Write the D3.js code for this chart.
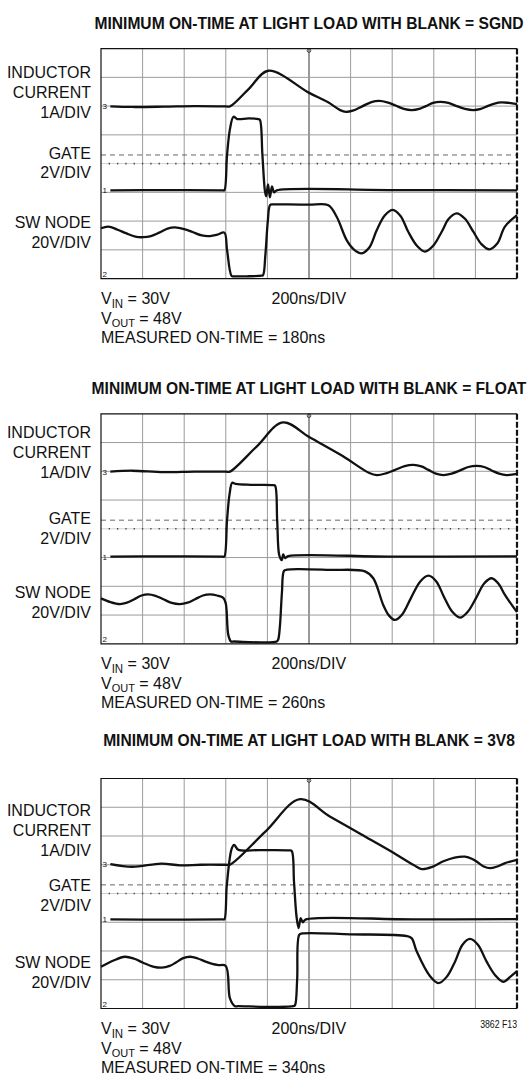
<!DOCTYPE html>
<html>
<head>
<meta charset="utf-8">
<script src="https://cdn.jsdelivr.net/npm/d3@7"></script>
<style>
  html, body { margin: 0; padding: 0; background: #fff; }
  svg { display: block; }
  text { font-family: "Liberation Sans", Arial, Helvetica, sans-serif; fill: #111; }
</style>
</head>
<body>
<svg id="chart" width="529" height="1076"></svg>
<script>
// ---- text ----
const titles = [
  "MINIMUM ON-TIME AT LIGHT LOAD WITH BLANK = SGND",
  "MINIMUM ON-TIME AT LIGHT LOAD WITH BLANK = FLOAT",
  "MINIMUM ON-TIME AT LIGHT LOAD WITH BLANK = 3V8"
];
const onTimes = ["180ns", "260ns", "340ns"];
const currentLabel = ["INDUCTOR", "CURRENT", "1A/DIV"];
const gateLabel = ["GATE", "2V/DIV"];
const swLabel = ["SW NODE", "20V/DIV"];
const vinText = "30V";
const voutText = "48V";
const timebaseText = "200ns/DIV";
const figureId = "3862 F13";

// ---- graticule: time in ns (200ns/div), amplitude in divisions ----
const timeTicks = [0, 200, 400, 600, 800, 1000, 1200, 1400, 1600, 1800, 2000];
const divTicks = [-4, -3, -2, -1, 0, 1, 2, 3, 4];
const minorTicks = [0, 40, 80, 120, 160, 200, 240, 280, 320, 360, 400, 440, 480, 520, 560, 600,
  640, 680, 720, 760, 800, 840, 880, 920, 960, 1000, 1040, 1080, 1120, 1160, 1200, 1240, 1280,
  1320, 1360, 1400, 1440, 1480, 1520, 1560, 1600, 1640, 1680, 1720, 1760, 1800, 1840, 1880,
  1920, 1960, 2000];
const triggerLevel = 0.3;

// ---- traces: [time ns, divisions from screen centre] ----
// BLANK = SGND
const sgndCurrent = [[45,1.99],[150,1.97],[300,1.98],[450,2.0],[600,1.99],[620,1.99],[712,2.61],
  [804,3.23],[1001,2.46],[1090,2.14],[1150,1.86],[1178,1.80],[1210,1.84],[1258,2.0],[1300,2.14],
  [1338,2.18],[1376,2.13],[1416,2.02],[1456,1.9],[1494,1.86],[1530,1.9],[1562,2.0],[1596,2.11],
  [1630,2.15],[1670,2.11],[1710,2.0],[1750,1.9],[1790,1.86],[1826,1.9],[1858,2.0],[1892,2.09],
  [1926,2.13],[1962,2.11],[2000,2.07]];
const sgndGate = [[45,-0.93],[300,-0.92],[585,-0.93],[593,-0.93],[606,0.3],[620,1.2],[637,1.63],
  [655,1.55],[710,1.57],[756,1.55],[764,1.52],[776,0.3],[788,-0.95],[794,-1.14],[803,-0.72],
  [812,-1.17],[822,-0.79],[832,-1.0],[845,-0.93],[1400,-0.92],[2000,-0.93]];
const sgndSw = [[0,-2.25],[35,-2.19],[80,-2.3],[120,-2.42],[165,-2.54],[203,-2.56],[240,-2.52],
  [280,-2.4],[320,-2.26],[356,-2.22],[400,-2.28],[440,-2.38],[485,-2.5],[524,-2.52],[560,-2.47],
  [593,-2.40],[606,-3.0],[628,-3.91],[640,-3.92],[700,-3.92],[770,-3.9],[779,-3.88],[790,-3.2],
  [802,-2.0],[813,-1.44],[825,-1.42],[900,-1.42],[1000,-1.43],[1093,-1.45],[1133,-1.85],
  [1181,-2.66],[1215,-2.98],[1253,-3.12],[1290,-2.92],[1326,-2.31],[1365,-1.80],[1403,-1.61],
  [1440,-1.82],[1477,-2.37],[1518,-2.85],[1558,-3.06],[1598,-2.85],[1638,-2.37],[1672,-1.92],
  [1710,-1.73],[1750,-1.92],[1790,-2.37],[1829,-2.80],[1867,-2.98],[1905,-2.78],[1942,-2.19],
  [2000,-1.79]];

// BLANK = FLOAT
const floatCurrent = [[45,1.99],[150,2.02],[300,1.97],[450,1.99],[600,1.99],[620,1.99],[747,2.85],
  [874,3.70],[1001,3.19],[1160,2.54],[1290,1.94],[1326,1.87],[1370,1.93],[1414,2.05],[1460,2.18],
  [1502,2.22],[1540,2.17],[1574,2.05],[1610,1.92],[1646,1.87],[1686,1.92],[1726,2.03],
  [1766,2.15],[1806,2.19],[1842,2.15],[1878,2.03],[1914,1.92],[1950,1.87],[2000,1.91]];
const floatGate = [[45,-0.97],[300,-0.96],[585,-0.97],[593,-0.97],[606,0.3],[618,1.2],[631,1.6],
  [648,1.56],[720,1.53],[828,1.52],[837,1.50],[847,0.3],[857,-0.92],[869,-1.09],[876,-0.89],
  [885,-1.02],[900,-0.95],[1400,-0.97],[2000,-0.96]];
const floatSw = [[0,-2.42],[45,-2.55],[91,-2.62],[125,-2.57],[160,-2.45],[195,-2.32],[227,-2.28],
  [262,-2.33],[300,-2.45],[340,-2.58],[380,-2.62],[416,-2.57],[452,-2.45],[490,-2.32],
  [524,-2.28],[558,-2.32],[588,-2.40],[600,-2.6],[612,-3.69],[625,-3.92],[640,-3.92],
  [845,-3.92],[852,-3.85],[860,-3.4],[870,-2.2],[880,-1.46],[895,-1.42],[950,-1.40],
  [1100,-1.43],[1269,-1.48],[1309,-1.72],[1357,-2.65],[1385,-3.02],[1413,-3.17],[1448,-2.98],
  [1490,-2.41],[1535,-1.83],[1574,-1.63],[1612,-1.83],[1649,-2.37],[1688,-2.88],[1726,-3.09],
  [1764,-2.88],[1803,-2.41],[1842,-1.90],[1878,-1.72],[1912,-1.92],[1942,-2.30],[2000,-2.90]];

// BLANK = 3V8
const v38Current = [[45,1.02],[150,0.93],[290,1.04],[380,0.98],[480,1.0],[600,1.0],[620,1.0],
  [790,2.15],[957,3.28],[1100,2.68],[1250,2.06],[1400,1.44],[1505,0.98],[1542,0.85],[1590,0.92],
  [1646,1.12],[1700,1.25],[1750,1.28],[1785,1.2],[1812,1.08],[1840,0.94],[1870,0.88],
  [1905,0.94],[1940,1.05],[2000,1.17]];
const v38Gate = [[45,-0.90],[300,-0.91],[585,-0.90],[593,-0.90],[605,0.3],[628,1.55],[640,1.69],
  [660,1.52],[760,1.51],[905,1.50],[917,1.48],[928,0.4],[940,-0.8],[950,-1.2],[960,-0.86],
  [970,-1.0],[985,-0.9],[1500,-0.9],[2000,-0.89]];
const v38Sw = [[0,-2.55],[60,-2.33],[115,-2.20],[160,-2.27],[200,-2.40],[250,-2.54],[292,-2.58],
  [330,-2.52],[360,-2.40],[395,-2.25],[428,-2.20],[465,-2.26],[500,-2.36],[540,-2.46],
  [564,-2.49],[600,-2.52],[620,-3.65],[644,-3.92],[660,-3.92],[925,-3.92],[933,-3.88],
  [943,-3.0],[953,-1.44],[968,-1.39],[1200,-1.42],[1470,-1.48],[1494,-1.56],[1518,-2.02],
  [1582,-2.88],[1622,-3.12],[1662,-2.90],[1702,-2.37],[1738,-1.78],[1774,-1.58],[1812,-1.78],
  [1854,-2.37],[1896,-2.85],[1934,-3.07],[1970,-2.88],[2000,-2.70]];

const traces = [
  { current: sgndCurrent, gate: sgndGate, sw: sgndSw },
  { current: floatCurrent, gate: floatGate, sw: floatSw },
  { current: v38Current, gate: v38Gate, sw: v38Sw }
];

// ---- layout ----
const plotLeft = 101, plotRight = 517, plotHeight = 230;
const panelTop = [48.6, 413.8, 778.5];
const titleBaseline = [28.7, 394, 745.5];
const titleScale = 0.945;
const labelRight = 91;
const labelBaselines = [
  { current: [78.3, 98, 117.6], gate: [158.9, 177.5], sw: [228, 248] },
  { current: [438, 458, 478], gate: [524, 544], sw: [597.6, 618] },
  { current: [816.4, 836, 855.5], gate: [891, 911], sw: [968.4, 988] }
];

const svg = d3.select("#chart");

function label(g, x, y, str, anchor, size, sx) {
  return g.append("text")
    .attr("transform", `translate(${x},${y}) scale(${sx || 1},1.06)`)
    .attr("text-anchor", anchor)
    .style("font-size", size + "px")
    .text(str);
}

traces.forEach((tr, i) => {
  const top = panelTop[i], bottom = top + plotHeight;
  const x = d3.scaleLinear().domain([0, 2000]).range([plotLeft, plotRight]);
  const y = d3.scaleLinear().domain([-4, 4]).range([bottom, top]);
  const g = svg.append("g");

  // title, centred over the screen
  g.append("text")
    .attr("transform", `translate(${(plotLeft + plotRight) / 2},${titleBaseline[i]}) scale(${titleScale},1)`)
    .attr("text-anchor", "middle")
    .style("font-size", "16.5px")
    .style("font-weight", "bold")
    .text(titles[i]);

  // graticule
  const grid = g.append("g");
  grid.selectAll("line.v").data(timeTicks.slice(1, -1)).join("line")
    .attr("x1", d => x(d)).attr("x2", d => x(d))
    .attr("y1", top).attr("y2", bottom)
    .attr("stroke", d => d === 1000 ? "#333" : "#9c9c9c")
    .attr("stroke-width", 1);
  grid.selectAll("line.h").data(divTicks.slice(1, -1).filter(d => d !== 0)).join("line")
    .attr("x1", plotLeft).attr("x2", plotRight)
    .attr("y1", d => y(d)).attr("y2", d => y(d))
    .attr("stroke", "#9c9c9c").attr("stroke-width", 1);
  // centre line with minor ticks
  grid.append("line")
    .attr("x1", plotLeft).attr("x2", plotRight)
    .attr("y1", y(0)).attr("y2", y(0))
    .attr("stroke", "#d0d0d0").attr("stroke-width", 1);
  grid.selectAll("line.tick").data(minorTicks.slice(1, -1)).join("line")
    .attr("x1", d => x(d)).attr("x2", d => x(d))
    .attr("y1", y(0) - 0.8).attr("y2", y(0) + 0.8)
    .attr("stroke", "#444").attr("stroke-width", 1.3);
  // trigger level
  grid.append("line")
    .attr("x1", plotLeft).attr("x2", plotRight)
    .attr("y1", y(triggerLevel)).attr("y2", y(triggerLevel))
    .attr("stroke", "#666").attr("stroke-width", 1)
    .attr("stroke-dasharray", "5 4");
  // trigger position marker
  grid.append("circle")
    .attr("cx", x(1000)).attr("cy", top + 2).attr("r", 1.8)
    .attr("fill", "none").attr("stroke", "#444").attr("stroke-width", 1);

  // screen border
  g.append("path")
    .attr("d", `M${plotRight},${top}H${plotLeft}V${bottom}H${plotRight}`)
    .attr("fill", "none").attr("stroke", "#111").attr("stroke-width", 1.2);
  g.append("line")
    .attr("x1", plotRight).attr("x2", plotRight).attr("y1", top).attr("y2", bottom)
    .attr("stroke", "#111").attr("stroke-width", 2.2).attr("stroke-dasharray", "6 2");

  // traces
  const line = d3.line().x(d => x(d[0])).y(d => y(d[1])).curve(d3.curveCatmullRom.alpha(0.5));
  [tr.current, tr.gate, tr.sw].forEach(series => {
    g.append("path")
      .attr("d", line(series))
      .attr("fill", "none")
      .attr("stroke", "#111")
      .attr("stroke-width", 2.3)
      .attr("stroke-linejoin", "round");
  });

  // channel markers
  const mark = (str, yy) => g.append("text")
    .attr("x", plotLeft + 1.5).attr("y", yy)
    .style("font-size", "8px").text(str);
  mark("3", y(tr.current[0][1]) + 3);
  mark("1", y(tr.gate[0][1]) + 3);
  mark("2", bottom - 2);

  // channel labels
  const lb = labelBaselines[i];
  currentLabel.forEach((s, k) => label(g, labelRight, lb.current[k], s, "end", 16));
  gateLabel.forEach((s, k) => label(g, labelRight, lb.gate[k], s, "end", 16));
  swLabel.forEach((s, k) => label(g, labelRight, lb.sw[k], s, "end", 16));

  // conditions
  const fy = bottom + 25.3;
  const vin = label(g, plotLeft, fy, "V", "start", 16);
  vin.append("tspan").attr("dy", 3.5).style("font-size", "11.5px").text("IN");
  vin.append("tspan").attr("dy", -3.5).text(" = " + vinText);
  const vout = label(g, plotLeft, fy + 19.8, "V", "start", 16);
  vout.append("tspan").attr("dy", 3).style("font-size", "11px").text("OUT");
  vout.append("tspan").attr("dy", -3).text(" = " + voutText);
  label(g, plotLeft, fy + 38.8, "MEASURED ON-TIME = " + onTimes[i], "start", 16);
  label(g, 271.5, fy, timebaseText, "start", 16);
  if (i === traces.length - 1) {
    label(g, plotRight, bottom + 19, figureId, "end", 9.5, 0.92);
  }
});
</script>
</body>
</html>
